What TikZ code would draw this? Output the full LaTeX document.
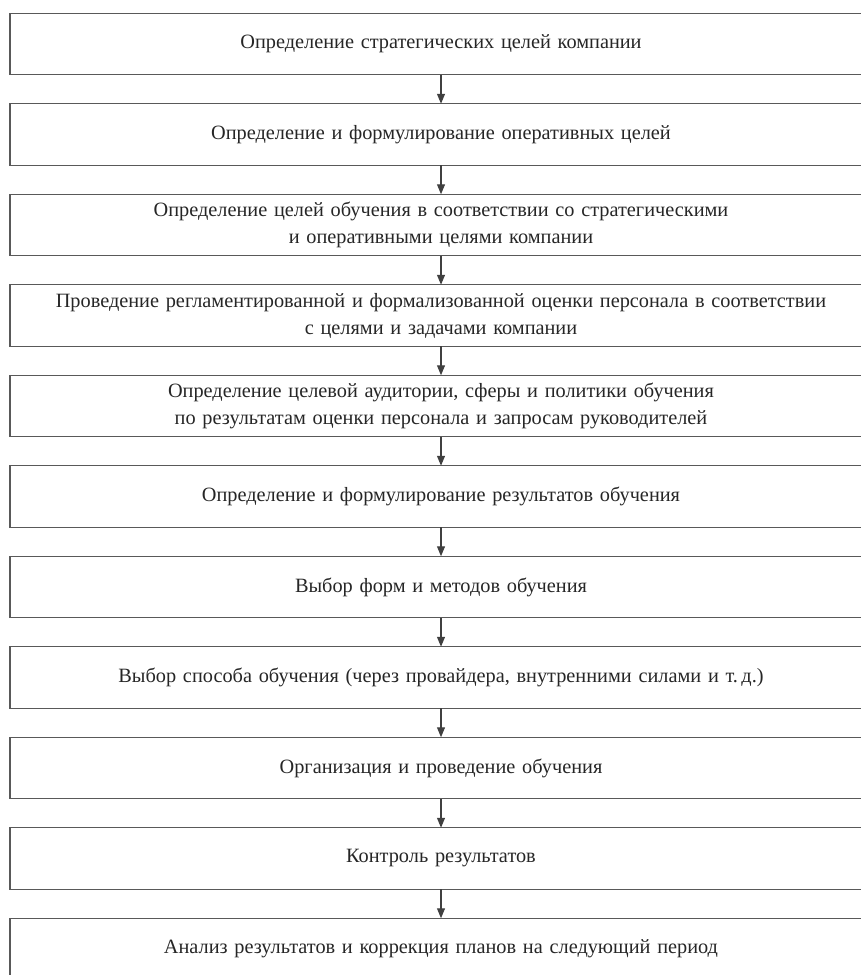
\documentclass[tikz,border=0pt]{standalone}
\usepackage{fontspec}
\setmainfont{Liberation Serif}
\usetikzlibrary{positioning,arrows.meta}

\begin{document}
\begin{tikzpicture}[x=1pt,y=1pt,
    stage/.style={draw=black!65, line width=1.4pt, minimum width=862pt,
      minimum height=61.5pt, text width=855pt, align=center, inner sep=0pt,
      outer sep=0pt, font=\fontsize{20.3}{27}\selectfont, text=black!85},
    flow/.style={draw=black!75, line width=1.2pt, -{Triangle[length=10pt,width=8pt]}},
    node distance=29pt]
  \useasboundingbox (0,0) rectangle (861,-975);
  \clip (0,0) rectangle (861,-975);

  % stages of the training process
  \node[stage] (goals) at (441,-44) {Определение стратегических целей компании};
  \node[stage, below=of goals] (opgoals) {Определение и формулирование оперативных целей};
  \node[stage, below=of opgoals] (trgoals) {Определение целей обучения в соответствии со стратегическими\\ и оперативными целями компании};
  \node[stage, below=of trgoals] (assess) {Проведение регламентированной и формализованной оценки персонала в соответствии\\ с целями и задачами компании};
  \node[stage, below=of assess] (audience) {Определение целевой аудитории, сферы и политики обучения\\ по результатам оценки персонала и запросам руководителей};
  \node[stage, below=of audience] (results) {Определение и формулирование результатов обучения};
  \node[stage, below=of results] (forms) {Выбор форм и методов обучения};
  \node[stage, below=of forms] (mode) {Выбор способа обучения (через провайдера, внутренними силами и т.\,д.)};
  \node[stage, below=of mode] (organize) {Организация и проведение обучения};
  \node[stage, below=of organize] (control) {Контроль результатов};
  \node[stage, below=of control] (analysis) {Анализ результатов и коррекция планов на следующий период};

  % arrows
  \draw[flow] (goals) -- (opgoals);
  \draw[flow] (opgoals) -- (trgoals);
  \draw[flow] (trgoals) -- (assess);
  \draw[flow] (assess) -- (audience);
  \draw[flow] (audience) -- (results);
  \draw[flow] (results) -- (forms);
  \draw[flow] (forms) -- (mode);
  \draw[flow] (mode) -- (organize);
  \draw[flow] (organize) -- (control);
  \draw[flow] (control) -- (analysis);
\end{tikzpicture}
\end{document}
